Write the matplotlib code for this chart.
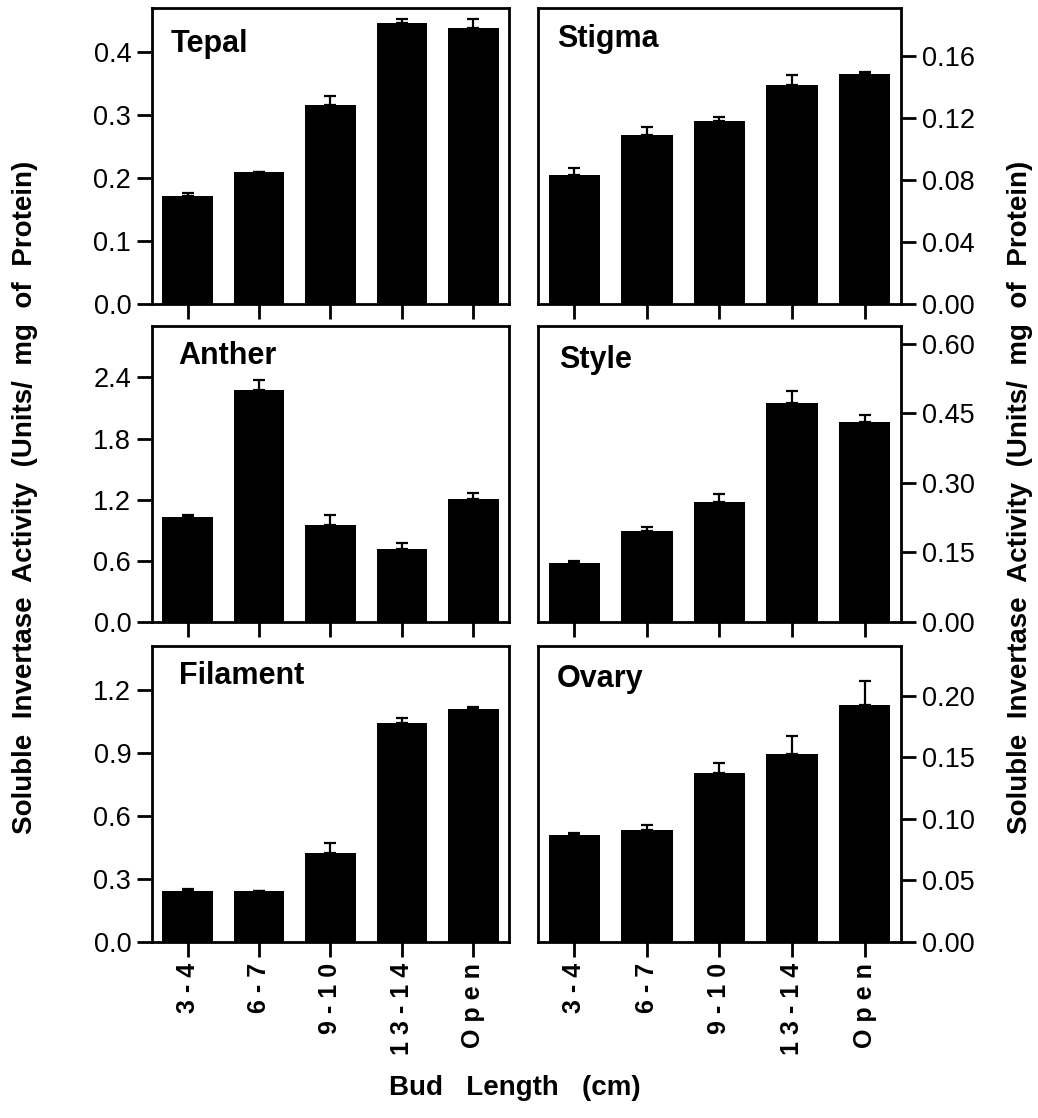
import matplotlib.pyplot as plt
from matplotlib.ticker import FormatStrFormatter

plt.rcParams['font.family'] = ['Liberation Sans', 'DejaVu Sans']

# Bud length classes (spaced out like the original)
bud_labels = ['3 - 4', '6 - 7', '9 - 1 0', '1 3 - 1 4', 'O p e n']

# Soluble invertase activity (Units / mg of protein) and error (upper only)
tepal = [0.171, 0.209, 0.316, 0.447, 0.438]
tepal_err = [0.006, 0.0, 0.014, 0.006, 0.015]

stigma = [0.083, 0.109, 0.118, 0.1415, 0.1485]
stigma_err = [0.005, 0.005, 0.003, 0.0065, 0.0015]

anther = [1.03, 2.28, 0.95, 0.715, 1.205]
anther_err = [0.02, 0.09, 0.10, 0.065, 0.065]

style = [0.127, 0.196, 0.258, 0.471, 0.430]
style_err = [0.004, 0.008, 0.017, 0.026, 0.015]

filament = [0.243, 0.243, 0.424, 1.043, 1.11]
filament_err = [0.009, 0.0, 0.047, 0.024, 0.009]

ovary = [0.087, 0.091, 0.137, 0.1525, 0.192]
ovary_err = [0.0016, 0.004, 0.008, 0.0145, 0.02]

# name, values, errors, ylim top, tick step, tick format, title position
panels = [
    ('Tepal', tepal, tepal_err, 0.47, 0.1, '%.1f', (0.053, 0.851)),
    ('Stigma', stigma, stigma_err, 0.191, 0.04, '%.2f', (0.052, 0.869)),
    ('Anther', anther, anther_err, 2.9, 0.6, '%.1f', (0.073, 0.872)),
    ('Style', style, style_err, 0.637, 0.15, '%.2f', (0.058, 0.858)),
    ('Filament', filament, filament_err, 1.41, 0.3, '%.1f', (0.075, 0.872)),
    ('Ovary', ovary, ovary_err, 0.24, 0.05, '%.2f', (0.052, 0.861)),
]

fig = plt.figure(figsize=(10.38, 11.18), dpi=100)

col_x = [0.1464, 0.5183]
col_w = [0.344, 0.3497]
row_y = [0.7281, 0.4436, 0.1574]
row_h = 0.2645

x = list(range(len(bud_labels)))

for i, (name, vals, errs, ytop, step, fmt, tpos) in enumerate(panels):
    row, col = divmod(i, 2)
    ax = fig.add_axes([col_x[col], row_y[row], col_w[col], row_h])

    ax.bar(x, vals, width=0.71, color='black', edgecolor='black', linewidth=0)
    ax.errorbar(x, vals, yerr=[[0] * len(errs), errs], fmt='none',
                ecolor='black', elinewidth=1.6, capsize=4.5, capthick=1.6)

    ax.set_xlim(-0.5, 4.5)
    ax.set_ylim(0, ytop)
    nt = int(round(ytop // step)) + 1
    ax.set_yticks([k * step for k in range(nt)])
    ax.yaxis.set_major_formatter(FormatStrFormatter(fmt))
    ax.set_xticks(x)

    if col == 1:
        ax.yaxis.tick_right()

    for sp in ax.spines.values():
        sp.set_linewidth(2)
    ax.tick_params(axis='both', direction='out', length=11, width=2,
                   labelsize=19.5, pad=4)

    # labels set after tick_params so the rotation alignment is kept
    if row == 2:
        ax.set_xticklabels(bud_labels, fontsize=18, fontweight='bold')
        for lab in ax.get_xticklabels():
            lab.set_rotation(90)
            lab.set_rotation_mode('default')
            lab.set_va('top')
            lab.set_ha('center')
    else:
        ax.set_xticklabels([])

    ax.text(tpos[0], tpos[1], name, transform=ax.transAxes,
            fontsize=22, fontweight='bold', ha='left', va='baseline')

ylab = 'Soluble  Invertase  Activity  (Units/  mg  of  Protein)'
fig.text(0.024, 0.555, ylab, rotation=90, ha='center', va='center',
         fontsize=20, fontweight='bold')
fig.text(0.983, 0.555, ylab, rotation=90, ha='center', va='center',
         fontsize=20, fontweight='bold')
fig.text(0.496, 0.027, 'Bud   Length   (cm)', ha='center', va='center',
         fontsize=20, fontweight='bold')

fig.savefig('out.png', dpi=100)
